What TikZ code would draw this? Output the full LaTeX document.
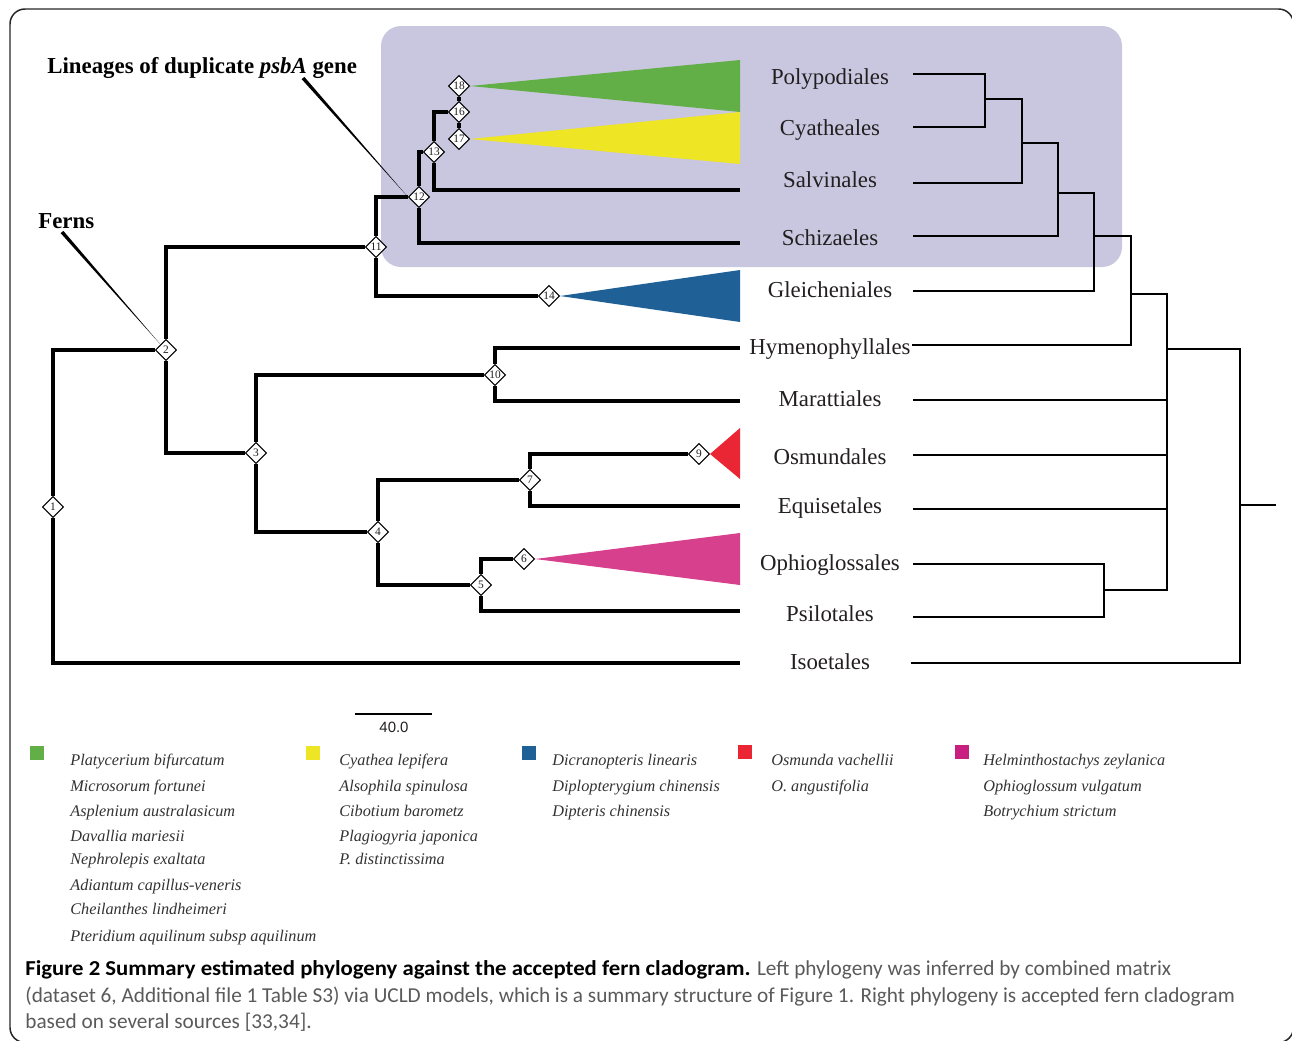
\documentclass[tikz,border=0pt]{standalone}
\usepackage{fontspec}
\setmainfont{Liberation Serif}
\newfontfamily\capfont{Carlito}
\newfontfamily\capbold{Carlito}[FakeStretch=1.07]
\newfontfamily\arialfont{Liberation Sans}
\usetikzlibrary{shapes.geometric}
\definecolor{lav}{RGB}{200,199,223}
\definecolor{cgreen}{RGB}{98,174,71}
\definecolor{cyellow}{RGB}{238,230,36}
\definecolor{cblue}{RGB}{31,96,150}
\definecolor{cred}{RGB}{235,38,52}
\definecolor{cpink}{RGB}{214,64,140}
\definecolor{cmag}{RGB}{200,32,128}
\definecolor{ink}{RGB}{35,31,32}
\definecolor{legink}{RGB}{50,50,50}
\definecolor{capgray}{RGB}{90,90,90}
\begin{document}
\begin{tikzpicture}[x=0.02cm,y=-0.02cm,
  ltree/.style={line width=2.1pt, draw=black},
  rtree/.style={line width=1.6pt, draw=black},
  dnode/.style={diamond, draw=black, fill=white, line width=0.6pt, inner sep=0pt,
     minimum width=0.42cm, minimum height=0.42cm, font=\fontsize{6.5}{7}\selectfont, text=ink},
  lab/.style={font=\fontsize{13}{15}\selectfont, text=ink, text height=0.7em, text depth=0.2em, inner sep=0pt},
  leg/.style={anchor=west, font=\fontsize{9.25}{11}\selectfont\itshape, text=legink, text height=0.7em, text depth=0.2em, inner sep=0pt},
  sq/.style={minimum size=0.28cm, inner sep=0pt},
  capt/.style={anchor=base west, inner sep=0pt, font=\capfont\fontsize{12.1}{14}\selectfont, text=capgray}]
\useasboundingbox (0,0) rectangle (1292,1041);
\begin{scope}
\clip (0,0) rectangle (1292,1041);
\draw[line width=0.85pt, draw=black!85, rounded corners=0.3cm] (10,9) rectangle (1293.5,1042.5);
\end{scope}
% shaded box
\fill[lav, rounded corners=0.4cm] (381,26) rectangle (1122,267);

% left tree nodes
\node[dnode] (n1) at (53,507) {1};
\node[dnode] (n2) at (166,350) {2};
\node[dnode] (n3) at (256,453) {3};
\node[dnode] (n4) at (378,532) {4};
\node[dnode] (n5) at (481,585) {5};
\node[dnode] (n6) at (524,559) {6};
\node[dnode] (n7) at (530,480) {7};
\node[dnode] (n9) at (699,454) {9};
\node[dnode] (n10) at (495,375) {10};
\node[dnode] (n11) at (376,247) {11};
\node[dnode] (n12) at (419,197) {12};
\node[dnode] (n13) at (434,152) {13};
\node[dnode] (n14) at (549,296) {14};
\node[dnode] (n16) at (459,112) {16};
\node[dnode] (n17) at (459,139) {17};
\node[dnode] (n18) at (459,86) {18};

\coordinate (lSal) at (740,190);
\coordinate (lSch) at (740,243);
\coordinate (lHym) at (740,348);
\coordinate (lMar) at (740,401);
\coordinate (lEqu) at (740,506);
\coordinate (lPsi) at (740,611);
\coordinate (lIso) at (740,663);

% triangles
\fill[cgreen] (n18.east) -- (740,60) -- (740,112) -- cycle;
\fill[cyellow] (n17.east) -- (740,112) -- (740,164) -- cycle;
\fill[cblue] (n14.east) -- (740,270) -- (740,322) -- cycle;
\fill[cred] (n9.east) -- (740,428) -- (740,479) -- cycle;
\fill[cpink] (n6.east) -- (740,533) -- (740,585) -- cycle;

% left tree branches
\draw[ltree] (n1) |- (n2);
\draw[ltree] (n1) |- (lIso);
\draw[ltree] (n2) |- (n11);
\draw[ltree] (n2) |- (n3);
\draw[ltree] (n11) |- (n12);
\draw[ltree] (n11) |- (n14);
\draw[ltree] (n12) |- (n13);
\draw[ltree] (n12) |- (lSch);
\draw[ltree] (n13) |- (n16);
\draw[ltree] (n13) |- (lSal);
\draw[ltree] (n16) -- (n18);
\draw[ltree] (n16) -- (n17);
\draw[ltree] (n3) |- (n10);
\draw[ltree] (n3) |- (n4);
\draw[ltree] (n10) |- (lHym);
\draw[ltree] (n10) |- (lMar);
\draw[ltree] (n4) |- (n7);
\draw[ltree] (n4) |- (n5);
\draw[ltree] (n7) |- (n9);
\draw[ltree] (n7) |- (lEqu);
\draw[ltree] (n5) |- (n6);
\draw[ltree] (n5) |- (lPsi);

% labels
\node[lab] (tPoly) at (830,80) {Polypodiales};
\node[lab] (tCya) at (830,131) {Cyatheales};
\node[lab] (tSal) at (830,183) {Salvinales};
\node[lab] (tSch) at (830,241) {Schizaeles};
\node[lab] (tGle) at (830,293) {Gleicheniales};
\node[lab] (tHym) at (830,350) {Hymenophyllales};
\node[lab] (tMar) at (830,402) {Marattiales};
\node[lab] (tOsm) at (830,460) {Osmundales};
\node[lab] (tEqu) at (830,509) {Equisetales};
\node[lab] (tOph) at (830,566) {Ophioglossales};
\node[lab] (tPsi) at (830,617) {Psilotales};
\node[lab] (tIso) at (830,665) {Isoetales};

% right tree
\coordinate (rPoly) at (913,74);
\coordinate (rCya) at (913,127);
\coordinate (rSal) at (913,183);
\coordinate (rSch) at (913,236);
\coordinate (rGle) at (913,291);
\coordinate (rHym) at (912,345);
\coordinate (rMar) at (913,400);
\coordinate (rOsm) at (913,455);
\coordinate (rEqu) at (913,509);
\coordinate (rOph) at (913,564);
\coordinate (rPsi) at (913,617);
\coordinate (rIso) at (911,663);
\coordinate (j1) at (985,99);
\coordinate (j2) at (1022,143);
\coordinate (j3) at (1058,193);
\coordinate (j4) at (1094,236);
\coordinate (j5) at (1131,294);
\coordinate (j6) at (1167,349);
\coordinate (jOP) at (1104,590);
\coordinate (j7) at (1240,505);
\coordinate (jRoot) at (1276,505);
\draw[rtree] (rPoly) -| (j1) |- (rCya);
\draw[rtree] (j1) -| (j2) |- (rSal);
\draw[rtree] (j2) -| (j3) |- (rSch);
\draw[rtree] (j3) -| (j4) |- (rGle);
\draw[rtree] (j4) -| (j5) |- (rHym);
\draw[rtree] (j5) -| (j6) |- (jOP);
\draw[rtree] (j6) |- (rMar);
\draw[rtree] (j6) |- (rOsm);
\draw[rtree] (j6) |- (rEqu);
\draw[rtree] (rOph) -| (jOP) |- (rPsi);
\draw[rtree] (j6) -| (j7) |- (rIso);
\draw[rtree] (j7) -- (jRoot);

% annotations
\node[anchor=west, inner sep=0pt, font=\fontsize{13}{15}\selectfont\bfseries, text=black, text height=0.7em, text depth=0.2em] (tLin) at (47,69) {Lineages of duplicate \textit{psbA} gene};
\node[anchor=west, inner sep=0pt, font=\fontsize{13}{15}\selectfont\bfseries, text=black, text height=0.7em, text depth=0.2em] (tFerns) at (38,224) {Ferns};
\fill[black] (n12.west) -- (301.7,79.2) -- (304.3,76.8) -- cycle;
\fill[black] (n2.north west) -- (60.7,233.2) -- (63.3,230.8) -- cycle;

% scale bar
\coordinate (sbA) at (355,714);
\coordinate (sbB) at (432,714);
\draw[line width=1pt] (sbA) -- (sbB);
\node[inner sep=0pt, font=\arialfont\fontsize{8.5}{10}\selectfont, text=ink] (sbT) at (394,727) {40.0};

% legend squares
\node[sq, fill=cgreen] (sqA) at (37,753) {};
\node[sq, fill=cyellow] (sqB) at (313,753) {};
\node[sq, fill=cblue] (sqC) at (529,753) {};
\node[sq, fill=cred] (sqD) at (745,752) {};
\node[sq, fill=cmag] (sqE) at (962,752) {};

% legend text
\node[leg] (la1) at (70,761) {Platycerium bifurcatum};
\node[leg] (la2) at (70,787) {Microsorum fortunei};
\node[leg] (la3) at (70,812) {Asplenium australasicum};
\node[leg] (la4) at (70,837) {Davallia mariesii};
\node[leg] (la5) at (70,860) {Nephrolepis exaltata};
\node[leg] (la6) at (70,886) {Adiantum capillus-veneris};
\node[leg] (la7) at (70,910) {Cheilanthes lindheimeri};
\node[leg] (la8) at (70,937) {Pteridium aquilinum subsp aquilinum};
\node[leg] (lb1) at (339,761) {Cyathea lepifera};
\node[leg] (lb2) at (339,787) {Alsophila spinulosa};
\node[leg] (lb3) at (339,812) {Cibotium barometz};
\node[leg] (lb4) at (339,837) {Plagiogyria japonica};
\node[leg] (lb5) at (339,860) {P. distinctissima};
\node[leg] (lc1) at (552,761) {Dicranopteris linearis};
\node[leg] (lc2) at (552,787) {Diplopterygium chinensis};
\node[leg] (lc3) at (552,812) {Dipteris chinensis};
\node[leg] (ld1) at (771,761) {Osmunda vachellii};
\node[leg] (ld2) at (771,787) {O. angustifolia};
\node[leg] (le1) at (983,761) {Helminthostachys zeylanica};
\node[leg] (le2) at (983,787) {Ophioglossum vulgatum};
\node[leg] (le3) at (983,812) {Botrychium strictum};

% caption
\node[capt] (cap1) at (25,975) {\textcolor{black}{\capbold\fontsize{12.1}{14}\selectfont\bfseries Figure 2 Summary estimated phylogeny against the accepted fern cladogram.} Left phylogeny was inferred by combined matrix};
\node[capt] (cap2) at (25,1002) {(dataset 6, Additional file 1 Table S3) via UCLD models, which is a summary structure of Figure 1. Right phylogeny is accepted fern cladogram};
\node[capt] (cap3) at (25,1028) {based on several sources [33,34].};
\end{tikzpicture}
\end{document}
